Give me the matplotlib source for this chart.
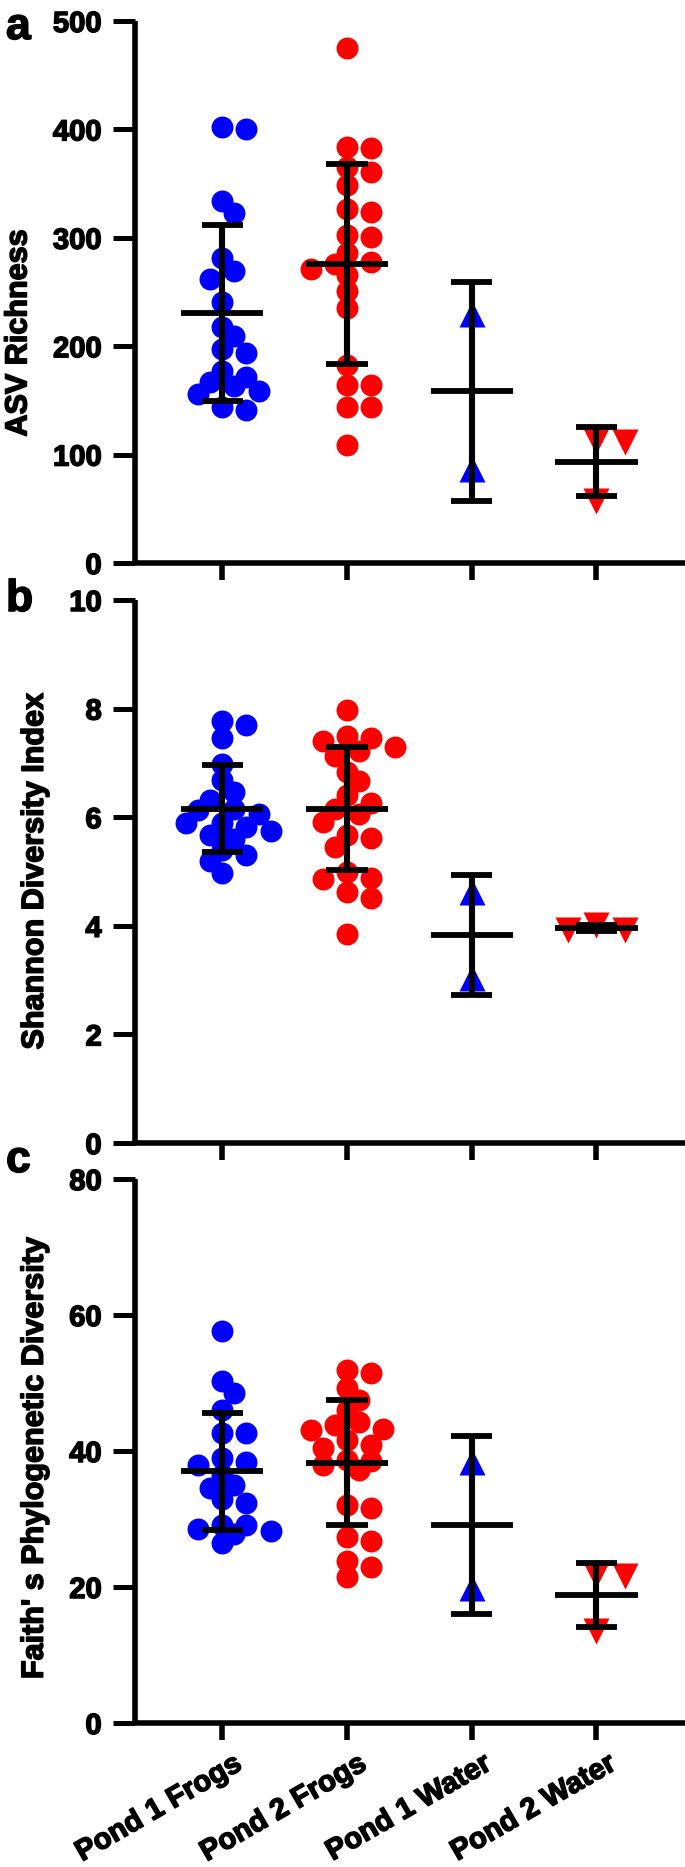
import numpy as np
import matplotlib
matplotlib.use('Agg')
import matplotlib.pyplot as plt
import matplotlib.patheffects as pe
from matplotlib.transforms import ScaledTranslation

plt.rcParams['font.family'] = ['Liberation Sans', 'DejaVu Sans']
plt.rcParams['font.weight'] = 'bold'

# ---------------- data ----------------
groups = ['Pond 1 Frogs', 'Pond 2 Frogs', 'Pond 1 Water', 'Pond 2 Water']
group_colors = ['#0000FF', '#FF0000', '#0000FF', '#FF0000']
group_markers = ['o', 'o', '^', 'v']

# panel a: ASV richness
asv_p1_frogs = [400, 402, 334, 323, 281, 269, 262, 241, 218, 209, 194, 197,
                177, 172, 163, 167, 159, 156, 141, 144]
asv_p2_frogs = [475, 384, 383, 365, 361, 349, 324, 327, 303, 301, 286, 278,
                276, 266, 271, 251, 235, 183, 164, 164, 144, 144, 109]
asv_p1_water = [230, 87]
asv_p2_water = [113, 112, 57]
asv_means = [230.5, 276.0, 158.5, 93.5]
asv_sds = [81.5, 92.5, 101.0, 32.0]

# panel b: Shannon diversity
shannon_p1_frogs = [7.77, 7.70, 7.45, 6.98, 6.69, 6.47, 6.31, 6.13, 5.89, 5.82,
                    5.68, 5.19, 5.31, 4.97, 6.15, 6.05, 5.90, 5.75, 5.60, 5.40]
shannon_p2_frogs = [7.97, 7.49, 7.46, 7.40, 7.30, 7.22, 7.12, 6.84, 6.67, 6.40,
                    6.26, 6.16, 6.05, 5.92, 5.68, 5.61, 5.45, 5.00, 4.88, 4.86,
                    4.62, 4.52, 3.84]
shannon_p1_water = [4.62, 3.04]
shannon_p2_water = [3.92, 4.02, 3.92]
shannon_means = [6.16, 6.16, 3.83, 3.96]
shannon_sds = [0.80, 1.14, 1.11, 0.06]

# panel c: Faith's PD
faith_p1_frogs = [57.7, 50.3, 48.6, 46.1, 42.6, 42.6, 39.0, 38.4, 38.0, 36.5,
                  35.0, 34.6, 32.9, 32.3, 29.1, 29.1, 27.8, 28.2, 28.5, 26.5]
faith_p2_frogs = [51.4, 51.9, 49.2, 47.5, 46.0, 44.3, 43.8, 43.3, 43.1, 41.6,
                  40.9, 40.4, 38.7, 38.5, 37.9, 37.2, 31.6, 32.1, 26.7, 27.4,
                  23.0, 23.8, 21.4]
faith_p1_water = [38.4, 19.8]
faith_p2_water = [21.8, 21.6, 13.5]
faith_means = [37.0, 38.3, 29.1, 18.8]
faith_sds = [8.65, 9.15, 13.1, 4.75]

ylabels = ['ASV Richness', 'Shannon Diversity Index', "Faith' s Phylogenetic Diversity"]
yticks_list = [[0, 100, 200, 300, 400, 500], [0, 2, 4, 6, 8, 10], [0, 20, 40, 60, 80]]
panel_letters = ['a', 'b', 'c']

panels = [
    ([asv_p1_frogs, asv_p2_frogs, asv_p1_water, asv_p2_water], asv_means, asv_sds),
    ([shannon_p1_frogs, shannon_p2_frogs, shannon_p1_water, shannon_p2_water], shannon_means, shannon_sds),
    ([faith_p1_frogs, faith_p2_frogs, faith_p1_water, faith_p2_water], faith_means, faith_sds),
]

# ---------------- layout ----------------
W_PX, H_PX, DPI = 685, 1867, 100
fig = plt.figure(figsize=(W_PX / DPI, H_PX / DPI), dpi=DPI)

left_px, right_px = 135, 685
panel_px = [(21, 563), (600, 1143), (1179, 1723)]
ylabel_y = [0.424, 0.5, 0.486]
letter_base = [39, 611, 1172]

MS_CIRCLE = 15.8
MS_TRI = 18.5
heavy = [pe.withStroke(linewidth=1.1, foreground='black')]


def swarm(ax, xc, vals, diam_px, min_frac=0.68, step_frac=0.55):
    vals = np.asarray(vals, float)
    ys = ax.transData.transform(np.column_stack([np.full(len(vals), xc), vals]))[:, 1]
    ppu = (ax.transData.transform((1, 0)) - ax.transData.transform((0, 0)))[0]
    order = np.argsort(-ys, kind='stable')
    step = step_frac * diam_px
    mind = min_frac * diam_px
    placed = []
    offs = np.zeros(len(vals))
    ks = [0]
    for k in range(1, 12):
        ks += [k, -k]
    for i in order:
        for k in ks:
            dx = k * step
            if all(np.hypot(dx - px, ys[i] - py) >= mind for px, py in placed):
                break
        placed.append((dx, ys[i]))
        offs[i] = dx / ppu
    return xc + offs


for p, ((series, means, sds), (top, bot)) in enumerate(zip(panels, panel_px)):
    rect = [left_px / W_PX, (H_PX - bot) / H_PX, (right_px - left_px) / W_PX, (bot - top) / H_PX]
    ax = fig.add_axes(rect)
    ax.set_xlim(-0.7, 3.71)
    ax.set_ylim(0, yticks_list[p][-1])
    for s in ['top', 'right']:
        ax.spines[s].set_visible(False)
    for s in ['left', 'bottom']:
        ax.spines[s].set_linewidth(4.0)
        ax.spines[s].set_capstyle('butt')
    ax.set_yticks(yticks_list[p])
    ax.set_xticks(range(len(groups)))
    ax.tick_params(axis='y', length=16, width=3.6, pad=8, labelsize=21)
    ax.tick_params(axis='x', length=12, width=4.0, pad=7, labelsize=21)
    for lab in ax.get_yticklabels():
        lab.set_fontweight('bold')
        lab.set_path_effects(heavy)

    for i, vals in enumerate(series):
        ms = MS_CIRCLE if group_markers[i] == 'o' else MS_TRI
        diam = ms * DPI / 72
        xs = swarm(ax, i, vals, diam)
        ax.plot(xs, vals, linestyle='none', marker=group_markers[i], ms=ms,
                color=group_colors[i], mec='none', zorder=2, clip_on=False)

    m = np.asarray(means)
    sd = np.asarray(sds)
    x = np.arange(len(groups))
    ax.vlines(x, m - sd, m + sd, colors='k', linewidth=4.4, zorder=3, capstyle='butt')
    ax.hlines(m, x - 0.33, x + 0.33, colors='k', linewidth=4.2, zorder=3, capstyle='butt')
    ax.hlines(m + sd, x - 0.166, x + 0.166, colors='k', linewidth=4.2, zorder=3, capstyle='butt')
    ax.hlines(m - sd, x - 0.166, x + 0.166, colors='k', linewidth=4.2, zorder=3, capstyle='butt')

    yl = ax.set_ylabel(ylabels[p], fontsize=22, fontweight='bold', labelpad=14, y=ylabel_y[p])
    yl.set_path_effects(heavy)

    if p == 2:
        ax.set_xticklabels(groups, rotation=30, ha='right', va='top',
                           rotation_mode='anchor', fontweight='bold', fontsize=21)
        off = ScaledTranslation(10 / DPI, 0, fig.dpi_scale_trans)
        for lab in ax.get_xticklabels():
            lab.set_transform(lab.get_transform() + off)
            lab.set_path_effects(heavy)
    else:
        ax.set_xticklabels([])

    fig.text(6 / W_PX, 1 - letter_base[p] / H_PX, panel_letters[p], fontsize=32,
             fontweight='bold', ha='left', va='baseline', path_effects=heavy)

fig.savefig('out.png', dpi=DPI)
